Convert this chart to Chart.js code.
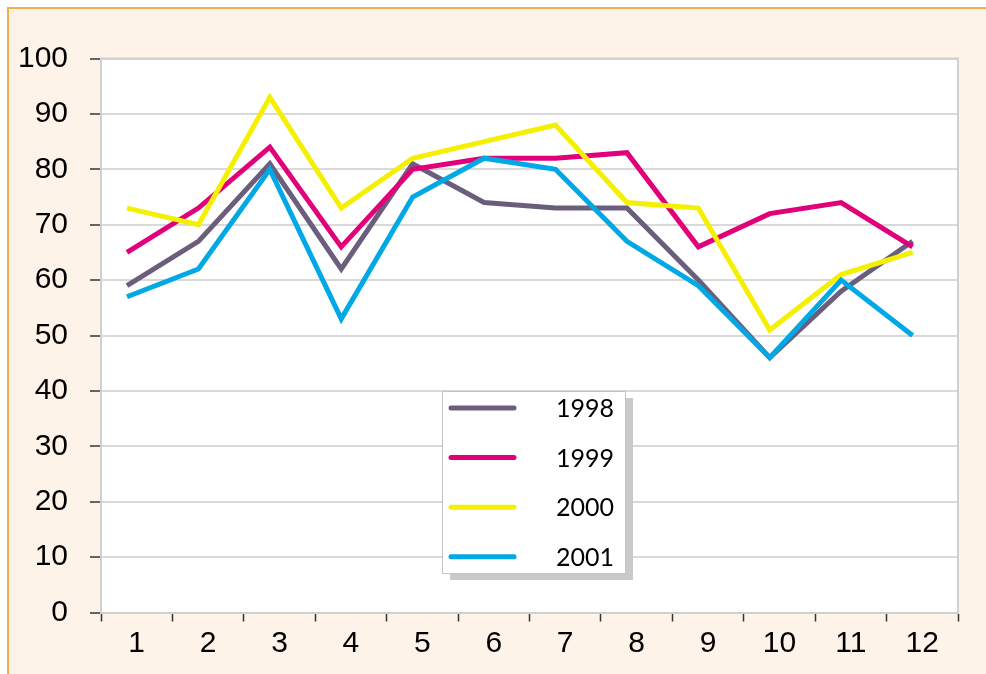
<!DOCTYPE html>
<html>
<head>
<meta charset="utf-8">
<script src="https://cdn.jsdelivr.net/npm/chart.js@4.4.1/dist/chart.umd.min.js"></script>
<style>
  html, body { margin: 0; padding: 0; background: #ffffff; }
  #frame {
    position: absolute; left: 7px; top: 7px;
    width: 977px; height: 665px;
    border-top: 2px solid #f2ae48; border-left: 2px solid #f2ae48;
    background: #fef3e9;
  }
  canvas { display: block; }
</style>
</head>
<body>
<div id="frame"><canvas id="myChart" width="977" height="665"></canvas></div>
<script>
// months along the bottom
const months = ['1', '2', '3', '4', '5', '6', '7', '8', '9', '10', '11', '12'];
const seriesNames = ['1998', '1999', '2000', '2001'];
const seriesColors = ['#6a5e7c', '#e2007a', '#f5ef00', '#00a9e6'];

const values1998 = [59, 67, 81, 62, 81, 74, 73, 73, 60, 46, 58, 67];
const values1999 = [65, 73, 84, 66, 80, 82, 82, 83, 66, 72, 74, 66];
const values2000 = [73, 70, 93, 73, 82, 85, 88, 74, 73, 51, 61, 65];
const values2001 = [57, 62, 80, 53, 75, 82, 80, 67, 59, 46, 60, 50];
const allValues = [values1998, values1999, values2000, values2001];

const yMin = 0, yMax = 100, yStep = 10;

const ctx = document.getElementById('myChart');

// white plot area with a thin grey frame
const plotBox = {
  id: 'plotBox',
  beforeDraw(chart) {
    const a = chart.chartArea;
    const c = chart.ctx;
    c.save();
    c.fillStyle = '#ffffff';
    c.fillRect(a.left, a.top, a.right - a.left, a.bottom - a.top);
    c.restore();
  },
  beforeDatasetsDraw(chart) {
    const a = chart.chartArea;
    const c = chart.ctx;
    c.save();
    c.strokeStyle = '#d0d0d0';
    c.lineWidth = 2;
    c.beginPath();
    c.moveTo(a.left, a.top);
    c.lineTo(a.right, a.top);
    c.lineTo(a.right, a.bottom);
    c.stroke();
    c.restore();
  }
};

// boxed legend with a drop shadow, drawn over the lines
const boxLegend = {
  id: 'boxLegend',
  afterDraw(chart) {
    const c = chart.ctx;
    const x = 433, y = 382, w = 183, h = 182;
    c.save();
    c.fillStyle = '#c9c9c9';
    c.fillRect(x + 8, y + 7, w, h);
    c.fillStyle = '#ffffff';
    c.fillRect(x, y, w, h);
    c.strokeStyle = '#c4c4c4';
    c.lineWidth = 1;
    c.strokeRect(x + 0.5, y + 0.5, w, h);
    c.font = '25px Lato';
    c.textAlign = 'right';
    c.textBaseline = 'middle';
    c.lineCap = 'round';
    chart.data.datasets.forEach((ds, i) => {
      const rowY = y + 17 + i * 49.6;
      c.strokeStyle = ds.borderColor;
      c.lineWidth = 5;
      c.beginPath();
      c.moveTo(x + 9, rowY);
      c.lineTo(x + 72, rowY);
      c.stroke();
      c.fillStyle = '#000000';
      c.fillText(ds.label, x + 172, rowY + 1);
    });
    c.restore();
  }
};

const myChart = new Chart(ctx, {
  type: 'line',
  data: {
    labels: months,
    datasets: seriesNames.map((name, i) => ({
      label: name,
      data: allValues[i].map((v, j) => ({ x: Number(months[j]), y: v })),
      borderColor: seriesColors[i],
      backgroundColor: seriesColors[i],
      borderWidth: 5,
      borderJoinStyle: 'miter',
      pointRadius: 0,
      tension: 0,
      fill: false,
      xAxisID: 'xPts',
      order: seriesNames.length - i
    }))
  },
  options: {
    responsive: false,
    animation: false,
    devicePixelRatio: 1,
    layout: { padding: { top: 49.5, right: 28, left: 0, bottom: 0 } },
    plugins: {
      legend: { display: false },
      tooltip: { enabled: false }
    },
    scales: {
      x: {
        type: 'category',
        position: 'bottom',
        offset: true,
        afterFit(s) { s.height = 61.5; },
        grid: {
          offset: true,
          drawOnChartArea: false,
          drawTicks: true,
          tickLength: 9,
          tickColor: '#333333',
          tickWidth: 1.5
        },
        border: { color: '#d0d0d0', width: 2 },
        ticks: {
          color: '#000000',
          font: { family: 'Liberation Sans', size: 30 },
          padding: 4,
          maxRotation: 0,
          autoSkip: false
        }
      },
      xPts: {
        type: 'linear',
        display: false,
        min: 0.636,
        max: 12.636
      },
      y: {
        min: yMin,
        max: yMax,
        afterFit(s) { s.width = 92; },
        grid: {
          color: '#d9d9d9',
          lineWidth: 2,
          drawTicks: true,
          tickLength: 11,
          tickColor: '#333333',
          tickWidth: 1.5
        },
        border: { color: '#d0d0d0', width: 2 },
        ticks: {
          stepSize: yStep,
          color: '#000000',
          font: { family: 'Liberation Sans', size: 30 },
          padding: 22
        }
      }
    }
  },
  plugins: [plotBox, boxLegend]
});
</script>
</body>
</html>
